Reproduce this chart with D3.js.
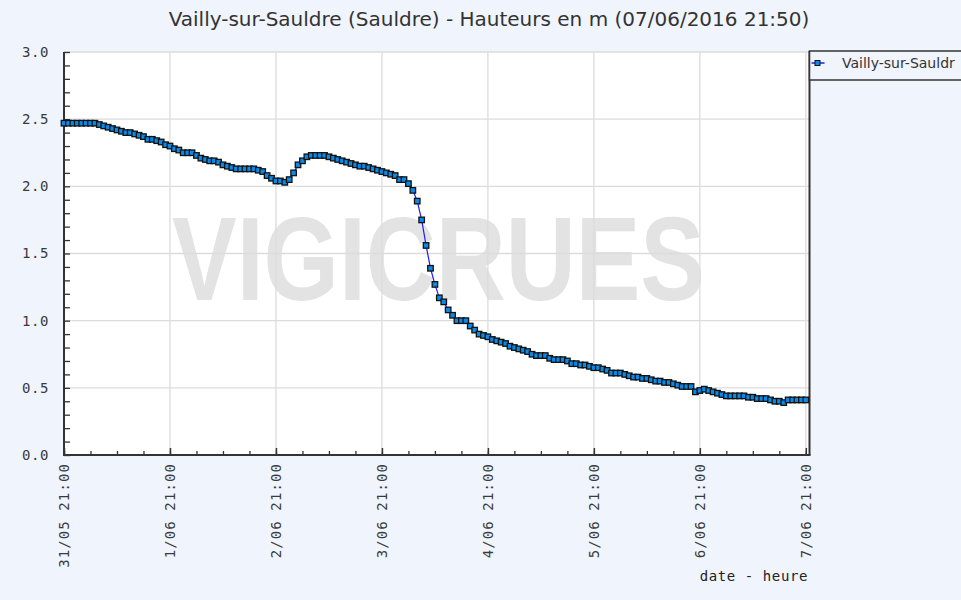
<!DOCTYPE html>
<html><head><meta charset="utf-8">
<script src="https://cdn.jsdelivr.net/npm/d3@7"></script>
<style>
html,body{margin:0;padding:0;background:#f0f4fc;}
svg{display:block;}
</style></head>
<body>
<svg id="chart" width="961" height="600"></svg>
<script>
// ---- data ----
const titleText = "Vailly-sur-Sauldre (Sauldre) - Hauteurs en m (07/06/2016 21:50)";
const seriesName = "Vailly-sur-Sauldr"; // as displayed (truncated) in the legend
const xAxisLabel = "date - heure";
const startTime = "2016-05-31T21:00:00Z"; // first hourly reading
const endTime = "2016-06-07T21:50:00Z";
const xTickDates = ["2016-05-31T21:00:00Z","2016-06-01T21:00:00Z","2016-06-02T21:00:00Z","2016-06-03T21:00:00Z","2016-06-04T21:00:00Z","2016-06-05T21:00:00Z","2016-06-06T21:00:00Z","2016-06-07T21:00:00Z"];
const xTickLabels = ["31/05 21:00","1/06 21:00","2/06 21:00","3/06 21:00","4/06 21:00","5/06 21:00","6/06 21:00","7/06 21:00"];
const yTickValues = [0,0.5,1.0,1.5,2.0,2.5,3.0];
const yTickLabels = ["0.0","0.5","1.0","1.5","2.0","2.5","3.0"];
// hourly water levels (m)
const levels = [
 2.47,2.47,2.47,2.47,2.47,2.47,2.47,2.47,2.46,2.45,
 2.44,2.43,2.42,2.41,2.40,2.40,2.39,2.38,2.37,2.35,
 2.35,2.34,2.33,2.31,2.30,2.28,2.27,2.25,2.25,2.25,
 2.23,2.21,2.20,2.19,2.19,2.18,2.16,2.15,2.14,2.13,
 2.13,2.13,2.13,2.13,2.12,2.11,2.08,2.06,2.04,2.04,
 2.03,2.05,2.10,2.16,2.19,2.22,2.23,2.23,2.23,2.23,
 2.22,2.21,2.20,2.19,2.18,2.17,2.16,2.15,2.15,2.14,
 2.13,2.12,2.11,2.10,2.09,2.08,2.05,2.05,2.02,1.97,
 1.89,1.75,1.56,1.39,1.27,1.17,1.14,1.08,1.04,1.00,
 1.00,1.00,0.96,0.93,0.90,0.89,0.88,0.86,0.85,0.84,
 0.83,0.81,0.80,0.79,0.78,0.77,0.75,0.74,0.74,0.74,
 0.72,0.71,0.71,0.71,0.70,0.68,0.68,0.67,0.67,0.66,
 0.65,0.65,0.64,0.63,0.61,0.61,0.61,0.60,0.59,0.58,
 0.58,0.57,0.57,0.56,0.55,0.55,0.54,0.54,0.53,0.52,
 0.51,0.51,0.51,0.47,0.48,0.49,0.48,0.47,0.46,0.45,
 0.44,0.44,0.44,0.44,0.44,0.43,0.43,0.42,0.42,0.42,
 0.41,0.40,0.40,0.39,0.41,0.41,0.41,0.41,0.41
];

// ---- layout ----
const L = 64, R = 809.5, T = 52, B = 455;
const svg = d3.select("#chart");
const t0 = new Date(startTime);
const data = levels.map((v,i)=>({t:d3.utcHour.offset(t0,i), v}));

const x = d3.scaleUtc().domain([t0, new Date(endTime)]).range([L, R]);
const y = d3.scaleLinear().domain([0,3]).range([B, T]);
const monoFont = "DejaVu Sans Mono, monospace";

// plot background
svg.append("rect").attr("x",L).attr("y",T).attr("width",R-L).attr("height",B-T).attr("fill","#ffffff");

// watermark
svg.append("text").attr("x",172).attr("y",300)
  .attr("font-family","Liberation Sans, Arial, sans-serif").attr("font-weight","bold")
  .attr("font-size",118).attr("fill","#e3e3e3")
  .attr("textLength",533).attr("lengthAdjust","spacingAndGlyphs")
  .text("VIGICRUES");

// grid
const tickDates = xTickDates.map(d=>new Date(d));
svg.append("g").selectAll("line").data(tickDates).join("line")
  .attr("x1",d=>x(d)).attr("x2",d=>x(d)).attr("y1",T).attr("y2",B)
  .attr("stroke","#dcdcdc").attr("stroke-width",1.3);
svg.append("g").selectAll("line").data(yTickValues).join("line")
  .attr("x1",L).attr("x2",R).attr("y1",d=>y(d)).attr("y2",d=>y(d))
  .attr("stroke","#dcdcdc").attr("stroke-width",1.3);

// y axis (ticks inside)
const yMinor = d3.range(0,31).map(i=>i/10);
const gy = svg.append("g").attr("transform",`translate(${L},0)`)
  .call(d3.axisRight(y).tickValues(yMinor).tickSize(6).tickFormat(""));
gy.select(".domain").remove();
gy.selectAll(".tick line").attr("stroke","#333").attr("stroke-width",1.3);
svg.append("g").selectAll("text").data(yTickValues).join("text")
  .attr("x",49).attr("y",d=>y(d)).attr("dy","0.35em").attr("text-anchor","end")
  .attr("font-family",monoFont).attr("font-size",14).attr("letter-spacing",0.6).attr("fill","#3a3a3a")
  .text((d,i)=>yTickLabels[i]);

// x axis (ticks inside)
const minorX = d3.utcHour.range(t0, new Date(endTime), 6);
const gxMinor = svg.append("g").attr("transform",`translate(0,${B})`)
  .call(d3.axisTop(x).tickValues(minorX).tickSize(4).tickFormat(""));
gxMinor.select(".domain").remove();
gxMinor.selectAll(".tick line").attr("stroke","#333").attr("stroke-width",1.3);
const gxMajor = svg.append("g").attr("transform",`translate(0,${B})`)
  .call(d3.axisTop(x).tickValues(tickDates).tickSize(7).tickFormat(""));
gxMajor.select(".domain").remove();
gxMajor.selectAll(".tick line").attr("stroke","#333").attr("stroke-width",1.5);
svg.append("g").selectAll("text").data(tickDates).join("text")
  .attr("transform",d=>`translate(${x(d)},463) rotate(-90)`)
  .attr("dy","0.35em").attr("text-anchor","end")
  .attr("font-family",monoFont).attr("font-size",14).attr("letter-spacing",1.1).attr("fill","#3a3a3a")
  .text((d,i)=>xTickLabels[i]);

// axis lines
svg.append("line").attr("x1",L).attr("x2",L).attr("y1",T).attr("y2",B+1).attr("stroke","#333").attr("stroke-width",2);
svg.append("line").attr("x1",L).attr("x2",R+1).attr("y1",B).attr("y2",B).attr("stroke","#333").attr("stroke-width",2);
svg.append("line").attr("x1",R).attr("x2",R).attr("y1",51).attr("y2",B).attr("stroke","#333").attr("stroke-width",2);

// axis title
svg.append("text").attr("x",808).attr("y",581).attr("text-anchor","end")
  .attr("font-family",monoFont).attr("font-size",14).attr("letter-spacing",0.6).attr("fill","#222")
  .text(xAxisLabel);

// series line + markers
const line = d3.line().x(d=>x(d.t)).y(d=>y(d.v));
svg.append("path").datum(data).attr("d",line).attr("fill","none").attr("stroke","#1c1cff").attr("stroke-width",1.2);
svg.append("g").selectAll("rect").data(data).join("rect")
  .attr("x",d=>x(d.t)-2.75).attr("y",d=>y(d.v)-2.75).attr("width",5.5).attr("height",5.5)
  .attr("fill","#0a8ae8").attr("stroke","#111").attr("stroke-width",1.3);

// title
svg.append("text").attr("x",489).attr("y",26).attr("text-anchor","middle")
  .attr("font-family","DejaVu Sans, sans-serif").attr("font-size",20).attr("fill","#333")
  .text(titleText);

// legend
const lg = svg.append("g");
lg.append("rect").attr("x",R).attr("y",51).attr("width",200).attr("height",29)
  .attr("fill","#f0f4fc").attr("stroke","#333").attr("stroke-width",1.5);
lg.append("line").attr("x1",R+2).attr("x2",R+15).attr("y1",63).attr("y2",63).attr("stroke","#1c1cff").attr("stroke-width",1.5);
lg.append("rect").attr("x",R+5.5).attr("y",60.5).attr("width",5).attr("height",5)
  .attr("fill","#0a8ae8").attr("stroke","#111").attr("stroke-width",1);
lg.append("text").attr("x",842).attr("y",63).attr("dy","0.35em")
  .attr("font-family","DejaVu Sans, sans-serif").attr("font-size",14).attr("fill","#333")
  .text(seriesName);
</script>
</body></html>
